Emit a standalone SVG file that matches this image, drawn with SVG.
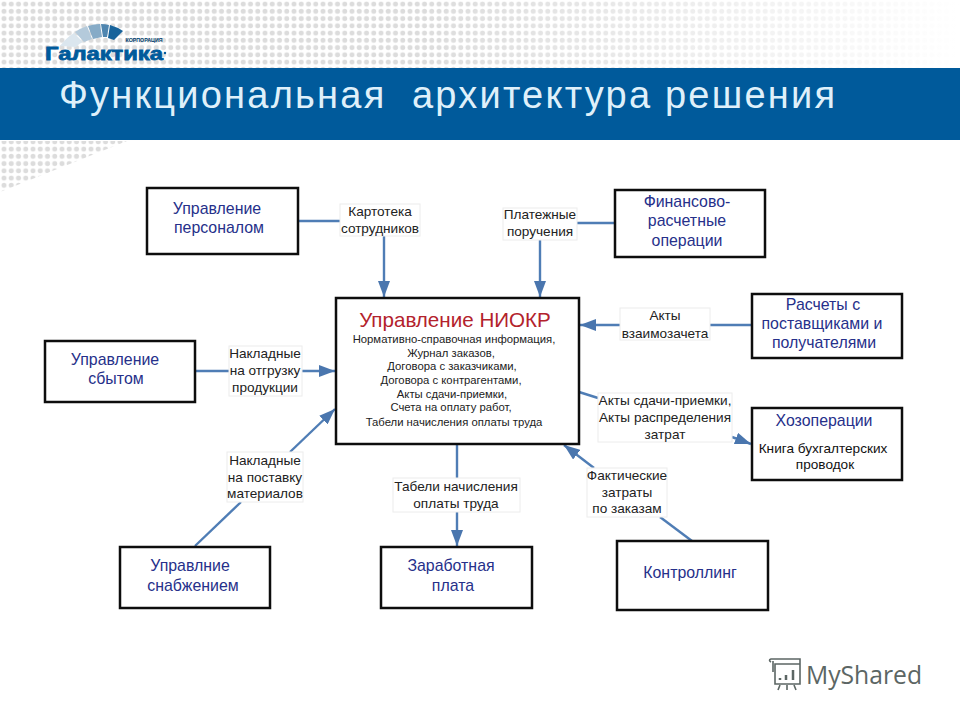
<svg xmlns="http://www.w3.org/2000/svg" width="960" height="720" viewBox="0 0 960 720">
<defs>
<style>
text{font-family:"Liberation Sans",Arial,sans-serif;text-anchor:middle}
.box{fill:#fff;stroke:#0d0d0d;stroke-width:2.5}
.t{font-size:15.9px;fill:#26308a;transform:translateY(1px)}
.l{font-size:13.6px;fill:#222}
.s{font-size:11.3px;fill:#222}
.lb{fill:#fff;stroke:#ececec;stroke-width:1}
.c{fill:none;stroke:#4f7db5;stroke-width:2.4}
</style>
<pattern id="dots" width="7.25" height="7.25" patternUnits="userSpaceOnUse">
<circle cx="4" cy="4" r="2.5" fill="#dcdcdc"/>
</pattern>
<marker id="a" markerUnits="userSpaceOnUse" markerWidth="18" markerHeight="12" refX="16" refY="6" orient="auto">
<path d="M0 0L16 6L0 12z" fill="#4a76ae"/>
</marker>
<linearGradient id="fade" x1="0" y1="0" x2="1" y2="0">
<stop offset="0" stop-color="#fff" stop-opacity="0"/><stop offset="1" stop-color="#fff"/>
</linearGradient>
</defs>
<rect width="960" height="720" fill="#fff"/>
<g id="background">
<rect x="0" y="0" width="960" height="68" fill="url(#dots)"/>
<polygon points="0,141 127,141 0,192" fill="url(#dots)"/>
<rect x="420" y="0" width="540" height="68" fill="url(#fade)"/>
<rect x="0" y="68" width="960" height="72" fill="#005a9b"/>
<text x="447" y="108" style="font-size:38px;fill:#dff0fa" textLength="776" lengthAdjust="spacing" xml:space="preserve">Функциональная  архитектура решения</text>
</g>
<g id="logo">
<path d="M60 46Q66 38 74 33L83 42Q78 44 76 47z" fill="#dbe6ee"/>
<path d="M75 32Q81 28 87 26L92 39L84 42z" fill="#b4cadb"/>
<path d="M88 26Q94 24 100 24L102 37L93 39z" fill="#86abc7"/>
<path d="M101 24Q105 24 109 25L107 37L103 37z" fill="#4f86b0"/>
<path d="M110 25Q117 27 123 31L114 40L108 38z" fill="#17639b"/>
<text x="104" y="60" style="font-size:19px;font-weight:bold;fill:#005a9b;stroke:#005a9b;stroke-width:.8" textLength="118" lengthAdjust="spacingAndGlyphs">Галактика</text>
<text x="144" y="42" style="font-size:5px;font-weight:bold;fill:#003e6e" textLength="37" lengthAdjust="spacingAndGlyphs">КОРПОРАЦИЯ</text>
<circle cx="165" cy="53" r="1.2" fill="#005a9b"/>
</g>
<g id="connectors">
<path class="c" d="M298 221H340"/>
<path class="c" d="M384 236V297" marker-end="url(#a)"/>
<path class="c" d="M614 223H577"/>
<path class="c" d="M540 240V297" marker-end="url(#a)"/>
<path class="c" d="M751 325H710"/>
<path class="c" d="M620 325H580" marker-end="url(#a)"/>
<path class="c" d="M196 371H229"/>
<path class="c" d="M302 371H335" marker-end="url(#a)"/>
<path class="c" d="M195 546L241 502"/>
<path class="c" d="M290 452L335 409" marker-end="url(#a)"/>
<path class="c" d="M457 445V478"/>
<path class="c" d="M457 512V546" marker-end="url(#a)"/>
<path class="c" d="M579 392L598 398"/>
<path class="c" d="M732 437L751 444" marker-end="url(#a)"/>
<path class="c" d="M692 541L660 517"/>
<path class="c" d="M594 468L564 445" marker-end="url(#a)"/>
</g>
<g id="labels">
<g id="label-kartoteka"><rect class="lb" x="340" y="204" width="80" height="32"/><text class="l" x="380" y="216">Картотека</text><text class="l" x="380" y="233">сотрудников</text></g>
<g id="label-plat"><rect class="lb" x="503" y="208" width="74" height="32"/><text class="l" x="540" y="219">Платежные</text><text class="l" x="540" y="236">поручения</text></g>
<g id="label-akty1"><rect class="lb" x="620" y="308" width="90" height="32"/><text class="l" x="665" y="320">Акты</text><text class="l" x="665" y="338">взаимозачета</text></g>
<g id="label-nakl1"><rect class="lb" x="229" y="346" width="73" height="50"/><text class="l" x="265" y="358">Накладные</text><text class="l" x="265" y="375">на отгрузку</text><text class="l" x="265" y="392">продукции</text></g>
<g id="label-nakl2"><rect class="lb" x="227" y="452" width="76" height="50"/><text class="l" x="265" y="465">Накладные</text><text class="l" x="265" y="482">на поставку</text><text class="l" x="265" y="498">материалов</text></g>
<g id="label-tabeli"><rect class="lb" x="393" y="478" width="127" height="34"/><text class="l" x="456" y="491">Табели начисления</text><text class="l" x="456" y="508">оплаты труда</text></g>
<g id="label-akty2"><rect class="lb" x="598" y="393" width="134" height="49"/><text class="l" x="665" y="405">Акты сдачи-приемки,</text><text class="l" x="665" y="422">Акты распределения</text><text class="l" x="665" y="439">затрат</text></g>
<g id="label-fact"><rect class="lb" x="587" y="468" width="80" height="49"/><text class="l" x="627" y="480">Фактические</text><text class="l" x="627" y="497">затраты</text><text class="l" x="627" y="513">по заказам</text></g>
</g>
<g id="node-personal"><rect class="box" x="147" y="188" width="151" height="66"/><text class="t" x="217" y="213">Управление</text><text class="t" x="219" y="232">персоналом</text></g>
<g id="node-finance"><rect class="box" x="615" y="190" width="150" height="67"/><text class="t" x="687" y="206">Финансово-</text><text class="t" x="687" y="225">расчетные</text><text class="t" x="687" y="245">операции</text></g>
<g id="node-niokr"><rect class="box" x="336" y="298" width="243" height="146"/>
<text x="455" y="327" style="font-size:20.6px;fill:#b3222c">Управление НИОКР</text>
<text class="s" x="454" y="343">Нормативно-справочная информация,</text>
<text class="s" x="451" y="357">Журнал заказов,</text>
<text class="s" x="452" y="370">Договора с заказчиками,</text>
<text class="s" x="451" y="384">Договора с контрагентами,</text>
<text class="s" x="452" y="398">Акты сдачи-приемки,</text>
<text class="s" x="451" y="411">Счета на оплату работ,</text>
<text class="s" x="454" y="426">Табели начисления оплаты труда</text></g>
<g id="node-raschety"><rect class="box" x="752" y="294" width="150" height="64"/><text class="t" x="823" y="309">Расчеты с</text><text class="t" x="822" y="328">поставщиками и</text><text class="t" x="824" y="347">получателями</text></g>
<g id="node-sbyt"><rect class="box" x="45" y="341" width="150" height="61"/><text class="t" x="115" y="364">Управление</text><text class="t" x="116" y="383">сбытом</text></g>
<g id="node-hoz"><rect class="box" x="752" y="408" width="150" height="72"/><text class="t" x="824" y="425">Хозоперации</text><text x="823" y="453" style="font-size:13.6px;fill:#111">Книга бухгалтерских</text><text x="825" y="469" style="font-size:13.6px;fill:#111">проводок</text></g>
<g id="node-snab"><rect class="box" x="120" y="547" width="150" height="61"/><text class="t" x="190" y="570">Управлние</text><text class="t" x="193" y="590">снабжением</text></g>
<g id="node-zarplata"><rect class="box" x="381" y="547" width="151" height="61"/><text class="t" x="451" y="570">Заработная</text><text class="t" x="453" y="590">плата</text></g>
<g id="node-controlling"><rect class="box" x="617" y="541" width="151" height="69"/><text class="t" x="690" y="577">Контроллинг</text></g>
<g id="watermark" fill="none" stroke="#5c6664" stroke-width="1.6">
<path d="M771 662Q768 660 771 659H800V665M773 661V672M775 664H800V684H775z"/>
<path d="M780 685L778 690M787 685V690M794 685L796 690"/>
<path d="M780 680V678M786 680V675M793 680V670" stroke-width="2.5"/>
<text x="864" y="684" style="font-size:25px;fill:#5c6664;stroke:none;font-family:'Open Sans','Liberation Sans',sans-serif" textLength="116" lengthAdjust="spacingAndGlyphs">MyShared</text>
</g>
</svg>
